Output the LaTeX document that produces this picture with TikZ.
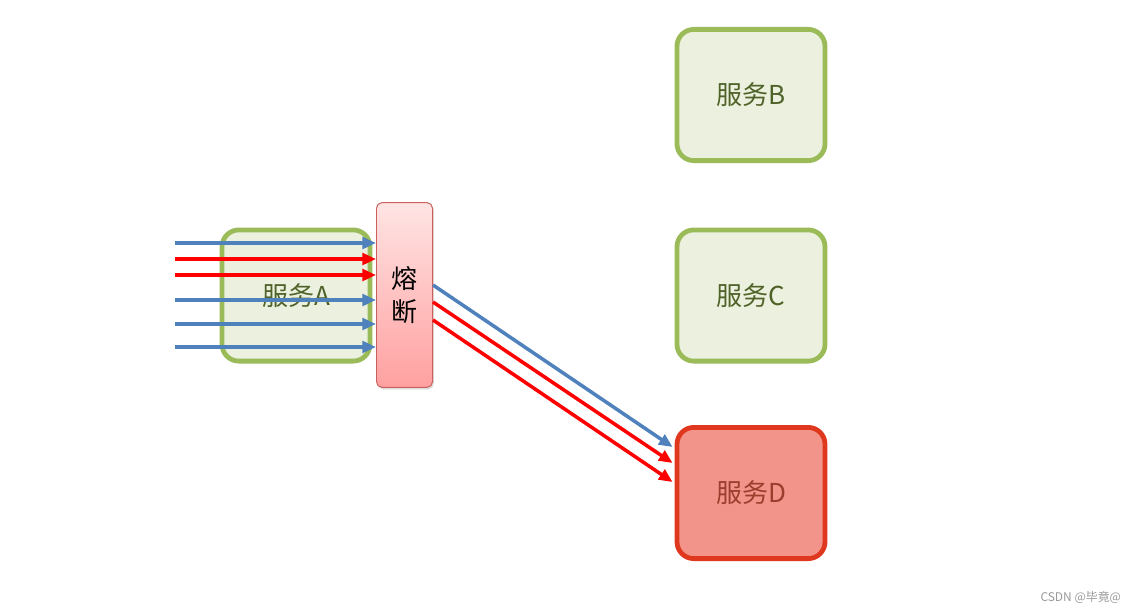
\documentclass[tikz,border=0pt]{standalone}
\usepackage{fontspec}
\setmainfont{Noto Sans CJK SC}
\usetikzlibrary{arrows.meta,positioning,calc,shadows}
\definecolor{okfill}{HTML}{EBF1DE}
\definecolor{okline}{HTML}{9BBB59}
\definecolor{oktext}{HTML}{4F6228}
\definecolor{badfill}{HTML}{F2948A}
\definecolor{badline}{HTML}{E0381F}
\definecolor{badtext}{HTML}{9C3D2E}
\definecolor{brktop}{HTML}{FFE4E4}
\definecolor{brkbot}{HTML}{FFA0A0}
\definecolor{brkline}{HTML}{C9605C}
\definecolor{callb}{HTML}{4F81BD}
\definecolor{callr}{HTML}{FF0000}
\definecolor{mark}{HTML}{999999}

\begin{document}
\begin{tikzpicture}[x=0.025cm, y=-0.025cm,
          svc/.style={draw=okline, line width=3.4pt, fill=okfill, rounded corners=12pt, minimum width=3.7cm, minimum height=3.28cm, text=oktext, font=\fontsize{18.5}{22}\selectfont},
          badsvc/.style={svc, draw=badline, fill=badfill, text=badtext},
          brkbox/.style={draw=brkline, line width=0.7pt, top color=brktop, bottom color=brkbot, rounded corners=4pt, minimum width=1.4cm, minimum height=4.62cm, align=center, font=\fontsize{18.5}{23}\selectfont, drop shadow={shadow xshift=1pt, shadow yshift=-1.5pt, opacity=0.25}},
          barr/.style={-{Triangle[length=3.4mm, width=2.9mm]}, line width=2.5pt, color=callb},
          rarr/.style={barr, color=callr}]
        \useasboundingbox (0,0) rectangle (1136,614);
        \node[svc] (svcA) at (296,295.5) {服务A};
        \node[svc] (svcB) at (751,95) {服务B};
        \node[svc] (svcC) at (751,295.5) {服务C};
        \node[badsvc] (svcD) at (751,493) {服务D};
        \node[brkbox] (brk) at (404.5,295) {熔\\断};
        % calls into service A
        \foreach \y/\s [count=\i] in {243/barr, 259/rarr, 275/rarr, 300/barr, 324/barr, 347/barr} {
          \coordinate (in\i) at (175,\y);
          \draw[\s] (in\i) -- (in\i -| brk.west);
        }
        % calls on to service D
        \draw[barr] ($(brk.east)+(0,-10)$) -- ($(svcD.west)+(-2,-46)$);
        \draw[rarr] ($(brk.east)+(0,7)$) -- ($(svcD.west)+(-2,-30)$);
        \draw[rarr] ($(brk.east)+(0,25)$) -- ($(svcD.west)+(-2,-11)$);
        \node[anchor=east, text=mark, font=\fontsize{8.5}{10}\selectfont] (wm) at (1126,598) {CSDN @毕竟@};
      \end{tikzpicture}
\end{document}
